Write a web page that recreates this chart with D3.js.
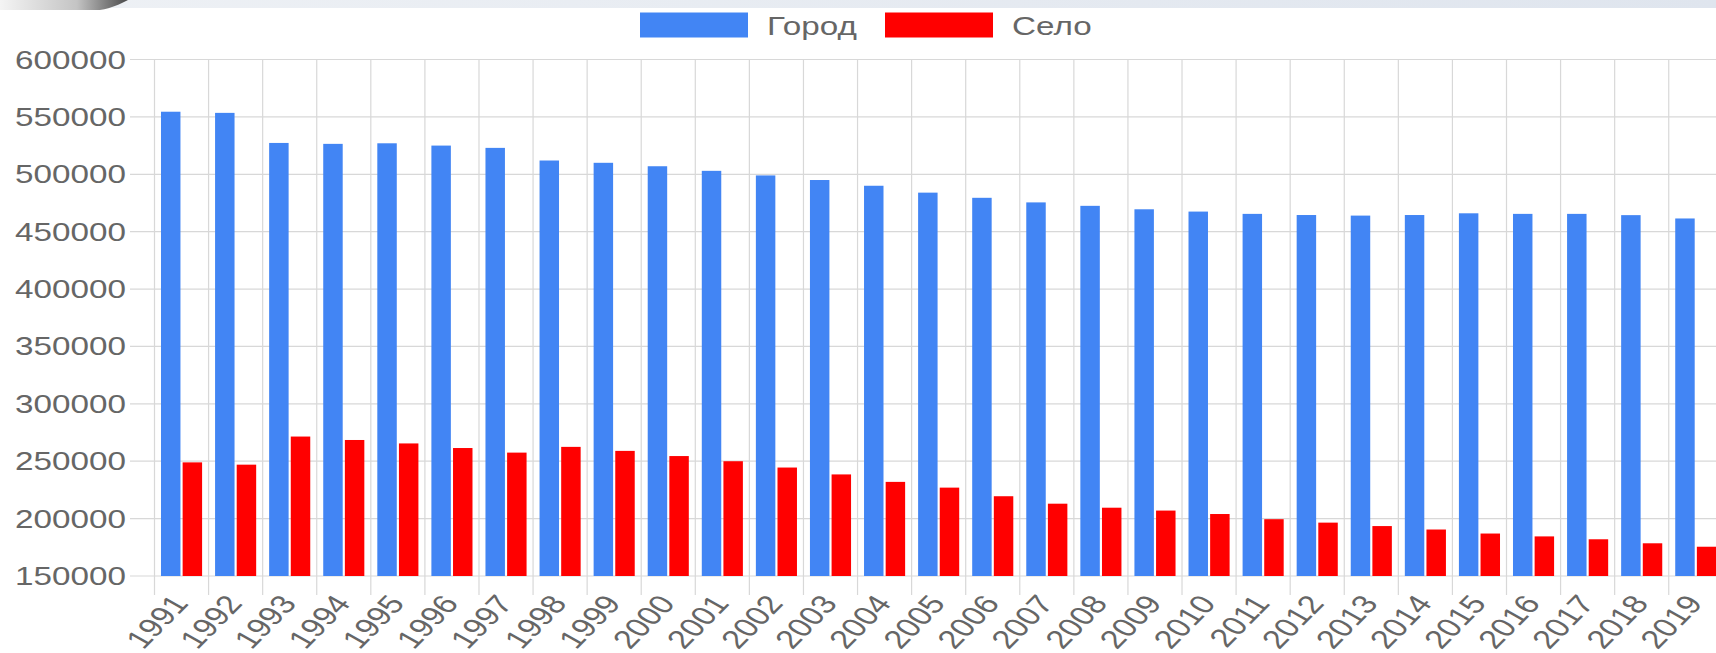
<!DOCTYPE html>
<html>
<head>
<meta charset="utf-8">
<script src="https://cdn.jsdelivr.net/npm/d3@7/dist/d3.min.js"></script>
<style>
body { margin: 0; background: #fff; overflow: hidden; }
text { font-family: "Liberation Sans", Arial, sans-serif; fill: #666; }
</style>
</head>
<body>
<div id="chart"></div>
<script>
// Data
const years = ["1991", "1992", "1993", "1994", "1995", "1996", "1997", "1998", "1999", "2000",
  "2001", "2002", "2003", "2004", "2005", "2006", "2007", "2008", "2009", "2010",
  "2011", "2012", "2013", "2014", "2015", "2016", "2017", "2018", "2019"];
const cityValues = [554500, 553500, 527300, 526500, 527000, 525000, 523000, 512000, 510000, 507000,
  503000, 499000, 495000, 490000, 484000, 479500, 475500, 472500, 469500, 467500,
  465500, 464500, 464000, 464500, 466000, 465500, 465500, 464400, 461500];
const villageValues = [249000, 247000, 271500, 268500, 265500, 261500, 257500, 262500, 259000, 254500,
  250000, 244500, 238500, 232000, 227000, 219500, 213000, 209500, 207000, 204000,
  199500, 196500, 193500, 190500, 187000, 184500, 182000, 178500, 175500];
const seriesNames = ["Город", "Село"];
const seriesColors = ["#4285f4", "#ff0000"];
const yTicks = [150000, 200000, 250000, 300000, 350000, 400000, 450000, 500000, 550000, 600000];

const W = 1716, H = 653;
const plotLeft = 154.5, step = 54.08;
const stretch = 1.33; // the source picture is stretched sideways

const svg = d3.select("#chart")
  .append("svg")
  .attr("width", W)
  .attr("height", H);

// header strip of the slide
const defs = svg.append("defs");
const band = defs.append("linearGradient").attr("id", "band");
band.append("stop").attr("offset", "0%").attr("stop-color", "#eef1f5");
band.append("stop").attr("offset", "100%").attr("stop-color", "#dfe5ee");
const swoosh = defs.append("linearGradient").attr("id", "swoosh");
swoosh.append("stop").attr("offset", "0%").attr("stop-color", "#f4f4f4");
swoosh.append("stop").attr("offset", "60%").attr("stop-color", "#c4c4c4");
swoosh.append("stop").attr("offset", "100%").attr("stop-color", "#4a4a4a");

svg.append("rect").attr("x", 0).attr("y", 0).attr("width", W).attr("height", 8).attr("fill", "url(#band)");
svg.append("path")
  .attr("d", "M0,0 L128,0 C120,4 112,8 100,10 L0,10 Z")
  .attr("fill", "url(#swoosh)");

// Scales
const x0 = d3.scaleBand()
  .domain(years)
  .range([plotLeft, plotLeft + years.length * step]);
const bw = x0.bandwidth();
const x1 = d3.scaleBand()
  .domain(seriesNames)
  .range([0.1 * bw, 0.9 * bw])
  .paddingInner(0.1)
  .paddingOuter(0.05);
const y = d3.scaleLinear()
  .domain([150000, 600000])
  .range([576, 59.5]);

// Grid
const grid = svg.append("g").attr("stroke", "#d8d8d8").attr("stroke-width", 1.2);
grid.selectAll(".h")
  .data(yTicks)
  .enter()
  .append("line")
  .attr("x1", 130)
  .attr("x2", W)
  .attr("y1", d => y(d))
  .attr("y2", d => y(d));
grid.selectAll(".v")
  .data(years)
  .enter()
  .append("line")
  .attr("x1", d => x0(d))
  .attr("x2", d => x0(d))
  .attr("y1", y(600000))
  .attr("y2", 595);

// Y labels
svg.selectAll(".ylab")
  .data(yTicks)
  .enter()
  .append("text")
  .attr("transform", d => `translate(126,${y(d)}) scale(${stretch},1)`)
  .attr("text-anchor", "end")
  .attr("dy", "0.36em")
  .style("font-size", "25px")
  .text(d => d);

// Bars
const rows = years.map((yr, i) => ({ year: yr, values: [cityValues[i], villageValues[i]] }));
const groups = svg.selectAll(".grp")
  .data(rows)
  .enter()
  .append("g")
  .attr("transform", d => `translate(${x0(d.year)},0)`);
groups.selectAll("rect")
  .data(d => d.values.map((v, k) => ({ key: seriesNames[k], value: v, color: seriesColors[k] })))
  .enter()
  .append("rect")
  .attr("x", d => x1(d.key))
  .attr("width", x1.bandwidth())
  .attr("y", d => y(d.value))
  .attr("height", d => y(150000) - y(d.value))
  .attr("fill", d => d.color);

// X labels (steeper before the sideways stretch so they end up at 45deg)
svg.selectAll(".xlab")
  .data(years)
  .enter()
  .append("text")
  .attr("transform", d => `translate(${x0(d) + bw / 2 + 8},604) scale(${stretch},1) rotate(-53)`)
  .attr("text-anchor", "end")
  .style("font-size", "26px")
  .text(d => d);

// Legend
const legendX = [640, 885];
const legend = svg.selectAll(".leg")
  .data(seriesNames)
  .enter()
  .append("g")
  .attr("transform", (d, i) => `translate(${legendX[i]},12.5)`);
legend.append("rect")
  .attr("width", 108)
  .attr("height", 25)
  .attr("fill", (d, i) => seriesColors[i]);
legend.append("text")
  .attr("transform", `translate(127,22.5) scale(${stretch},1)`)
  .style("font-size", "25px")
  .text(d => d);
</script>
</body>
</html>
